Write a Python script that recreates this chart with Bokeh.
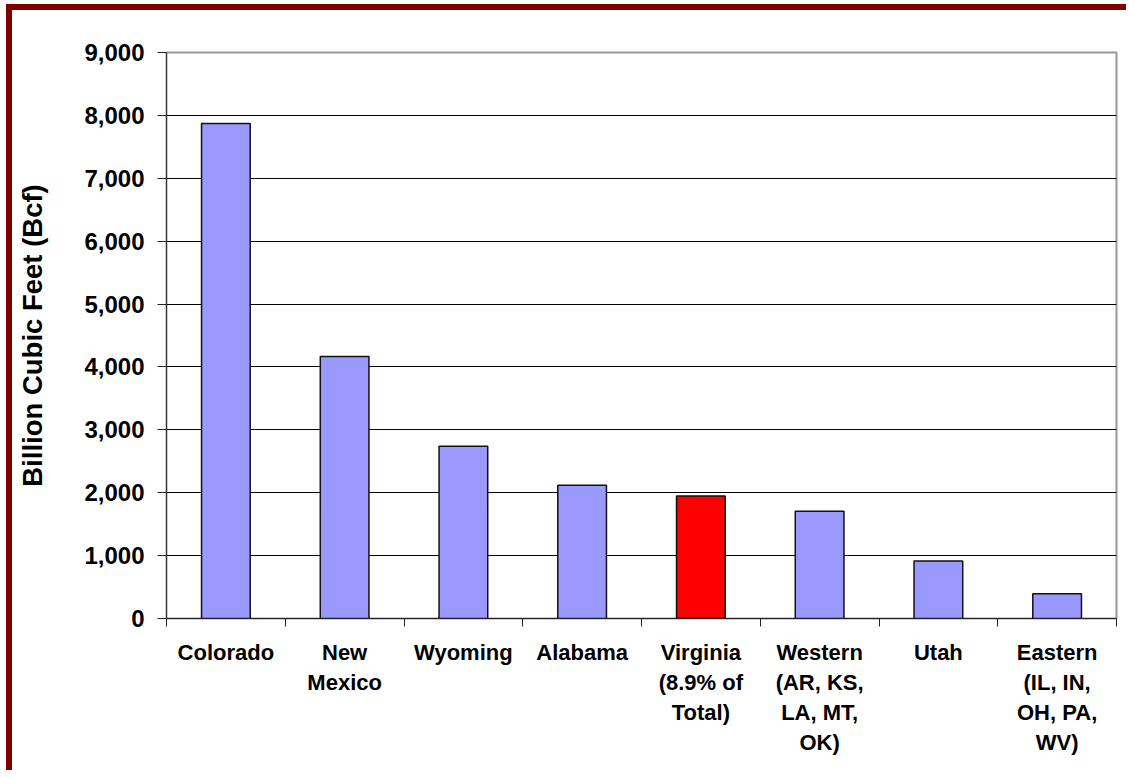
from bokeh.plotting import figure
from bokeh.models import ColumnDataSource, FixedTicker, NumeralTickFormatter, Range1d
from bokeh.embed import file_html
from bokeh.resources import INLINE

categories = ["Colorado", "New\nMexico", "Wyoming", "Alabama", "Virginia\n(8.9% of\nTotal)",
              "Western\n(AR, KS,\nLA, MT,\nOK)", "Utah", "Eastern\n(IL, IN,\nOH, PA,\nWV)"]
values = [7870, 4165, 2740, 2120, 1948, 1705, 916, 395]
colors = ["#9999FF", "#9999FF", "#9999FF", "#9999FF", "#FF0000", "#9999FF", "#9999FF", "#9999FF"]
y_ticks = [0, 1000, 2000, 3000, 4000, 5000, 6000, 7000, 8000, 9000]

xs = [i + 0.5 for i in range(len(categories))]
src = ColumnDataSource(dict(x=xs, top=values, color=colors))

p = figure(width=1120, height=766, output_backend="svg", toolbar_location=None,
           x_range=Range1d(0, len(categories)), y_range=Range1d(0, 9000),
           min_border_left=154, min_border_right=16, min_border_top=42, min_border_bottom=158)
p.styles = {"border-top": "6px solid #800000", "border-left": "6px solid #800000",
            "margin-top": "4px", "margin-left": "6px"}

p.vbar(x="x", top="top", width=0.41, bottom=0, source=src, fill_color="color",
       line_color="#111111", line_width=1.5)

font = "Liberation Sans"
# x axis
p.xaxis.ticker = FixedTicker(ticks=xs, minor_ticks=list(range(len(categories) + 1)))
p.xaxis.major_label_overrides = {x: c for x, c in zip(xs, categories)}
p.xaxis.major_tick_out = 0
p.xaxis.major_tick_in = 0
p.xaxis.minor_tick_out = 8
p.xaxis.minor_tick_in = 0
p.xaxis.minor_tick_line_color = "#222222"
p.xaxis.axis_line_color = "#222222"
p.xaxis.major_label_text_font = font
p.xaxis.major_label_text_font_style = "bold"
p.xaxis.major_label_text_font_size = "22px"
p.xaxis.major_label_text_color = "black"
p.xaxis.major_label_standoff = 13
p.xaxis.major_label_text_line_height = 1.2

# y axis
p.yaxis.ticker = FixedTicker(ticks=y_ticks)
p.yaxis.formatter = NumeralTickFormatter(format="0,0")
p.yaxis.major_tick_out = 9
p.yaxis.major_tick_in = 0
p.yaxis.minor_tick_line_color = None
p.yaxis.axis_line_color = "#333333"
p.yaxis.major_tick_line_color = "#222222"
p.yaxis.major_label_text_font = font
p.yaxis.major_label_text_font_style = "bold"
p.yaxis.major_label_text_font_size = "24px"
p.yaxis.major_label_text_color = "black"
p.yaxis.major_label_standoff = 13
p.yaxis.axis_label = "Billion Cubic Feet (Bcf)"
p.yaxis.axis_label_text_font = font
p.yaxis.axis_label_text_font_style = "bold"
p.yaxis.axis_label_text_font_size = "27.5px"
p.yaxis.axis_label_text_color = "black"
p.yaxis.axis_label_standoff = 33

p.xgrid.grid_line_color = None
p.ygrid.grid_line_color = "black"
p.ygrid.grid_line_width = 1
p.outline_line_color = "#999999"
p.outline_line_width = 2
p.background_fill_color = "white"
p.border_fill_color = "white"

open("out.html", "w").write(file_html(p, INLINE))
